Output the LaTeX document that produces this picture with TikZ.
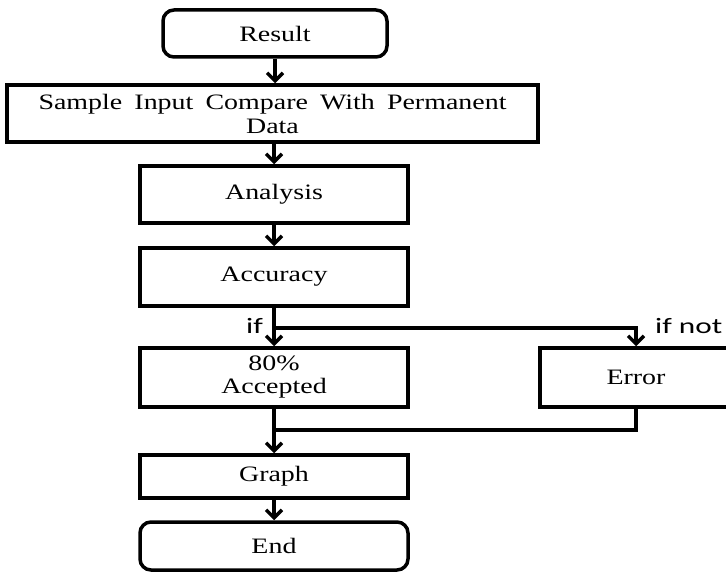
\documentclass[tikz,border=0pt]{standalone}
\usepackage{fontspec}
\setmainfont{Liberation Serif}[FakeStretch=1.27]
\newfontfamily\labelfont{Carlito}[FakeStretch=1.42]
\usetikzlibrary{arrows.meta}
\tikzset{
  fbox/.style={draw, line width=3.5pt, inner sep=0pt, align=center,
    font=\fontsize{22}{24}\selectfont},
  rbox/.style={fbox, rounded corners=11pt},
  conn/.style={line width=3.5pt},
  arr/.style={conn, -{Straight Barb[length=8pt, width=16pt, line width=3.5pt]}},
  lbl/.style={font=\labelfont\fontsize{22}{24}\selectfont, inner sep=0pt}
}
\begin{document}
\begin{tikzpicture}[x=1pt, y=-1pt]
\useasboundingbox (0,0) rectangle (726,572);
\node[rbox, minimum width=224pt, minimum height=47pt] (res) at (275,33.5) {Result};
\node[fbox, minimum width=531pt, minimum height=57pt] (samp) at (272.5,113.5)
  {\makebox[468pt][s]{Sample Input Compare With Permanent}\\Data};
\node[fbox, minimum width=268pt, minimum height=57pt] (ana) at (274,194.5) {Analysis};
\node[fbox, minimum width=268pt, minimum height=58pt] (acc) at (274,277) {Accuracy};
\node[fbox, minimum width=268pt, minimum height=59pt, font=\fontsize{22}{23}\selectfont] (accp) at (274,377.5) {80\%\\Accepted};
\node[fbox, minimum width=192pt, minimum height=59pt] (err) at (636,377.5) {Error};
\node[fbox, minimum width=268pt, minimum height=43pt] (gra) at (274,476.5) {Graph};
\node[rbox, minimum width=268pt, minimum height=48pt] (end) at (274,546) {End};

\coordinate (br) at (274,328);
\coordinate (mg) at (274,430);

\draw[arr] (res.south) -- (samp.north -| res.south);
\draw[arr] (samp.south -| ana.north) -- (ana.north);
\draw[arr] (ana.south) -- (acc.north);
\draw[arr] (acc.south) -- (accp.north);
\draw[arr] (br) -| (err.north);
\draw[arr] (accp.south) -- (gra.north);
\draw[conn] (err.south) |- (mg);
\draw[arr] (gra.south) -- (end.north);

\node[lbl, anchor=east] (lif) at (263,326) {if};
\node[lbl, anchor=west] (lifnot) at (655,326) {if not};
\end{tikzpicture}
\end{document}
